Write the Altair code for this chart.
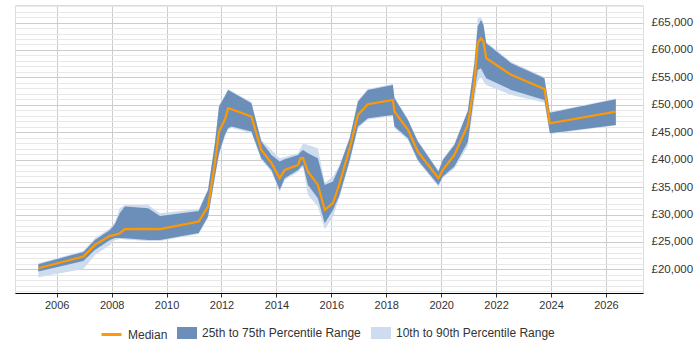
import altair as alt
import pandas as pd

years = [2005.33, 2006.97, 2007.39, 2007.94, 2008.12, 2008.30, 2008.48, 2009.33, 2009.76,
         2011.17, 2011.51, 2011.76, 2011.91, 2012.12, 2012.24, 2012.37, 2013.09, 2013.45,
         2013.82, 2014.12, 2014.30, 2014.79, 2014.88, 2014.97, 2015.15, 2015.51, 2015.76,
         2016.06, 2016.30, 2016.67, 2016.97, 2017.33, 2018.24, 2018.30, 2018.79, 2019.15,
         2019.90, 2020.06, 2020.48, 2020.97, 2021.21, 2021.33, 2021.45, 2021.54, 2021.64,
         2022.55, 2023.76, 2023.96, 2026.36]

p90 = [21130, 23370, 25690, 27510, 28660, 31210, 31760, 31760, 30250,
       31030, 34680, 43240, 49990, 51810, 52900, 52540, 50540, 43610,
       41790, 40270, 40510, 41180, 42150, 43010, 42700, 42100, 35770,
       36920, 39050, 44150, 50810, 52900, 53820, 51450, 47440, 43520,
       38050, 40140, 42970, 49080, 57830, 65790, 65980, 64940, 61470,
       57830, 55090, 48710, 51170]

p75 = [20950, 23190, 25380, 27200, 28290, 30300, 31450, 31160, 29750,
       30660, 34490, 43010, 49680, 51500, 52720, 52360, 50300, 43300,
       40870, 39650, 40090, 40870, 41420, 41790, 41180, 40270, 35400,
       36010, 38740, 43920, 50590, 52720, 53630, 51210, 47250, 43300,
       37830, 39960, 42700, 48890, 57590, 64260, 65480, 64570, 61240,
       57590, 54860, 48580, 51030]

median = [20220, 22330, 24470, 26110, 26290, 26600, 27330, 27380, 27330,
          28710, 31450, 39360, 45120, 47250, 49390, 49200, 47860, 41790,
          39360, 36630, 38140, 39050, 40270, 40270, 37830, 35400, 30850,
          32070, 35710, 42100, 48170, 50120, 50900, 48770, 45430, 41480,
          36630, 38140, 40870, 46340, 53940, 61240, 62150, 61530, 58500,
          55460, 52900, 46650, 48770]

p25 = [19600, 21550, 23550, 25380, 25740, 25740, 25690, 25380, 25380,
       26650, 29630, 36920, 41180, 44520, 45740, 46030, 45120, 40270,
       38140, 34490, 36630, 38140, 38690, 39050, 35400, 32980, 28420,
       30850, 33580, 39960, 46030, 47560, 48170, 46030, 43920, 39960,
       35400, 36920, 38740, 43240, 52120, 56370, 56680, 55770, 54860,
       52720, 50900, 44830, 46340]

p10 = [18580, 20090, 22640, 24470, 25380, 25560, 25470, 25200, 25200,
       26470, 29390, 36680, 40870, 44150, 45520, 45800, 44880, 39960,
       37770, 34130, 36320, 37770, 38320, 38690, 33580, 31450, 27330,
       29630, 33220, 39600, 45740, 47350, 47980, 45800, 43610, 39690,
       35090, 36680, 38410, 42510, 50900, 54240, 55150, 54240, 53630,
       51810, 50410, 44700, 46250]

band_names = ["25th to 75th Percentile Range", "10th to 90th Percentile Range"]
band_colors = ["#6c8fb9", "#cddcee"]
line_name = ["Median"]
line_color = ["#ff9900"]
x_ticks = [2006, 2008, 2010, 2012, 2014, 2016, 2018, 2020, 2022, 2024, 2026]
y_ticks = list(range(16000, 69000, 1000))

df = pd.DataFrame({"year": years, "p10": p10, "p25": p25, "median": median,
                   "p75": p75, "p90": p90})

x_enc = alt.X("year:Q",
              scale=alt.Scale(domain=[2004.48, 2027.35], nice=False, zero=False),
              axis=alt.Axis(values=x_ticks, tickCount=100, format="d", title=None, grid=True,
                            gridColor="#cccccc", domainColor="#000000", tickColor="#333333",
                            tickSize=4, labelFont="Liberation Sans", labelFontSize=11,
                            labelColor="#333333", labelPadding=2, labelFlush=False,
                            labelOverlap=False))

y_scale = alt.Scale(domain=[15700, 68200], nice=False, zero=False)
y_axis = alt.Axis(orient="right", values=y_ticks, tickCount=200, title=None, domain=False,
                  ticks=False, labelOverlap=False,
                  labelExpr="datum.value % 5000 === 0 ? '£' + format(datum.value, ',') : ''",
                  gridColor={"condition": {"test": "datum.value % 5000 === 0", "value": "#cccccc"},
                             "value": "#e8e8e8"},
                  labelFont="Liberation Sans", labelFontSize=11.5, labelColor="#333333",
                  labelPadding=8, labelAlign="left")

band_legend = alt.Legend(
    title=None, orient="none", direction="horizontal", legendX=162, legendY=318,
    labelFont="Liberation Sans", labelFontSize=12, labelColor="#333333",
    symbolType="M-1,-0.6H1V0.6H-1Z", symbolSize=400, symbolStrokeWidth=0,
    symbolOpacity=1, labelOffset=5, columnPadding=10)

line_legend = alt.Legend(
    title=None, orient="none", direction="horizontal", legendX=85, legendY=318,
    labelFont="Liberation Sans", labelFontSize=12, labelColor="#333333",
    symbolType="stroke", symbolSize=400, symbolStrokeWidth=3,
    labelOffset=5)

fill_scale = alt.Scale(domain=band_names, range=band_colors)
stroke_scale = alt.Scale(domain=line_name, range=line_color)

base = alt.Chart(df).encode(x=x_enc)

light = base.mark_area(opacity=1).encode(
    y=alt.Y("p10:Q", scale=y_scale, axis=y_axis),
    y2="p90:Q",
    fill=alt.Fill("s:N", scale=fill_scale, legend=band_legend),
).transform_calculate(s="'10th to 90th Percentile Range'")

dark = base.mark_area(opacity=1).encode(
    y=alt.Y("p25:Q", scale=y_scale),
    y2="p75:Q",
    fill=alt.Fill("s:N", scale=fill_scale, legend=band_legend),
).transform_calculate(s="'25th to 75th Percentile Range'")

line = base.mark_line(strokeWidth=2.2).encode(
    y=alt.Y("median:Q", scale=y_scale),
    stroke=alt.Stroke("s:N", scale=stroke_scale, legend=line_legend),
).transform_calculate(s="'Median'")

chart = alt.layer(light, dark, line).properties(
    width=628, height=288,
    autosize=alt.AutoSizeParams(type="none"),
    padding={"left": 15, "top": 5, "right": 57, "bottom": 57},
).configure_view(stroke=None).configure(background="white")

chart.save("out.html", embed_options={"renderer": "svg", "actions": False})
